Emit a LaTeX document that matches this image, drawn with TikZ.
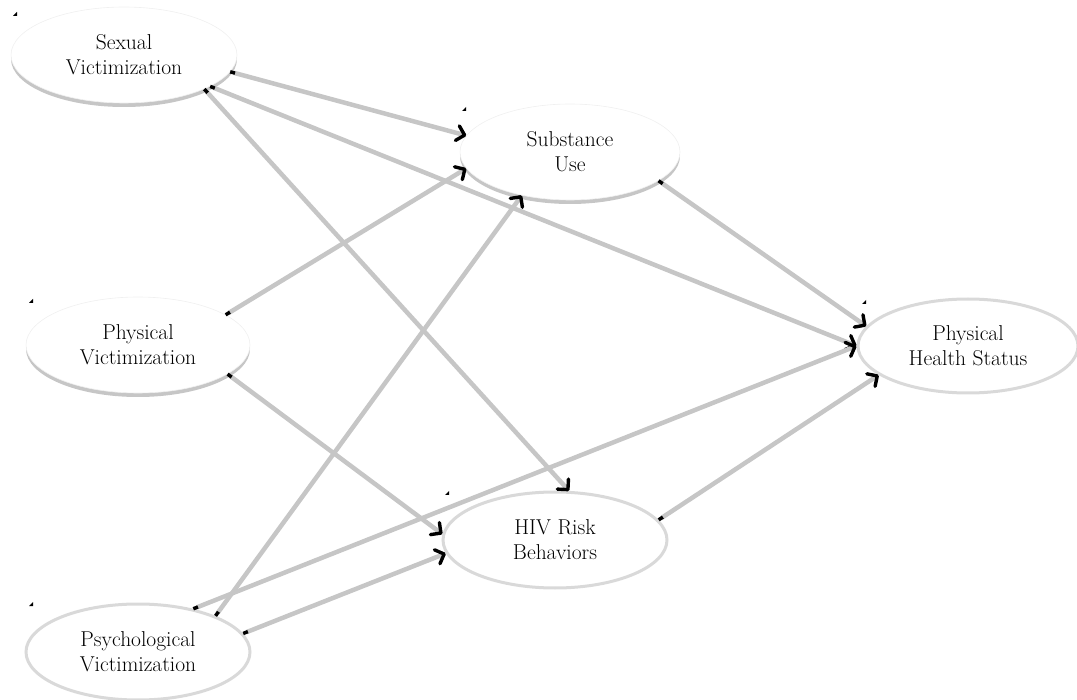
\documentclass[tikz,border=0pt]{standalone}
\usepackage{fontspec}
\setmainfont{Latin Modern Roman}
\usetikzlibrary{positioning,shapes,shadows,calc}
\usetikzlibrary{arrows.meta,arrows}
\tikzset{%
  % Specifications for style of nodes:
    >={Straight Barb[length=7.5pt,width=15pt,line width=3.4pt,round,color=black]},
    var/.style={ellipse, align=center, fill=white, font=\fontsize{21.5}{25}\selectfont},
    varshade/.style={var, draw=gray!12, line width=0.6pt,
      drop shadow={shadow xshift=0pt, shadow yshift=-4pt, opacity=0.45, fill=gray}},
    varline/.style={var, draw=gray!30, line width=3pt},
    link/.style={draw=gray!45, line width=4.5pt, {Square[length=5pt,width=3.5pt,color=black]}-{>}},
    anchormark/.style={fill=black},
}

\begin{document}
\begin{tikzpicture}[x=1pt,y=-1pt]
    \useasboundingbox (0,0) rectangle (1077,700);

    % latent variables
    \node[varshade, minimum width=226, minimum height=96] (sex)  at (124,55)  {Sexual\\Victimization};
    \node[varshade, minimum width=224, minimum height=96] (phys) at (138,345) {Physical\\Victimization};
    \node[varline,  minimum width=224, minimum height=96] (psy)  at (138,652) {Psychological\\Victimization};
    \node[varshade, minimum width=220, minimum height=96] (sub)  at (570,152) {Substance\\Use};
    \node[varline,  minimum width=224, minimum height=96] (hiv)  at (555,540) {HIV Risk\\Behaviors};
    \node[varline,  minimum width=220, minimum height=94] (phs)  at (968,346) {Physical\\Health Status};

    % small anchor marks
    \foreach \x/\y in {13/16, 29/303, 29/606, 462/111, 445/495, 862/304}
      \fill[anchormark] (\x,\y) -- ++(4,0) -- ++(0,-4) -- cycle;

    % paths
    \draw[link] (sex.-9.5)  -- (sub.171);
    \draw[link] (sex.-23)   -- (hiv.74);
    \draw[link] (sex.-20)   -- (phs.180);
    \draw[link] (phys.19.5) -- (sub.189);
    \draw[link] (phys.-18.4) -- (hiv.177.5);
    \draw[link] (psy.38.5)  -- (phs.180);
    \draw[link] (psy.25)    -- (sub.222.6);
    \draw[link] (psy.10.7)  -- (hiv.187.6);
    \draw[link] (sub.-18.6) -- (phs.169.7);
    \draw[link] (hiv.11)    -- (phs.198);
\end{tikzpicture}
\end{document}
